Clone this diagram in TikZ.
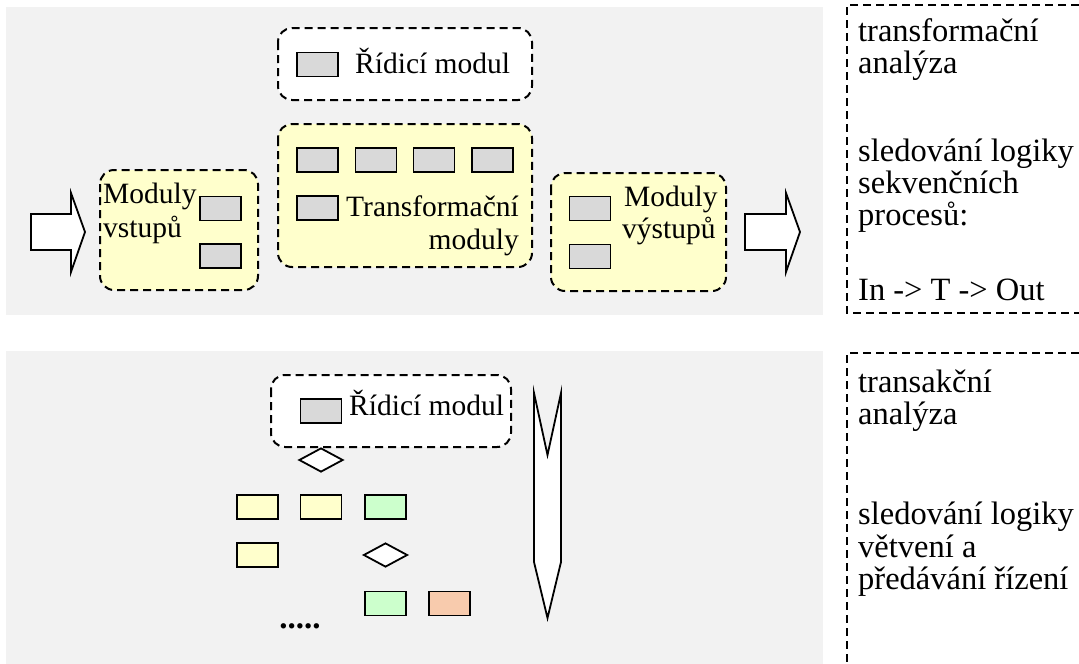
\documentclass[tikz,border=0pt]{standalone}
\usepackage{fontspec}
\setmainfont{Liberation Serif}
\usetikzlibrary{shapes.geometric}
\definecolor{bgray}{HTML}{F2F2F2}
\definecolor{mgray}{HTML}{D9D9D9}
\definecolor{myel}{HTML}{FFFFCC}
\definecolor{mgreen}{HTML}{CCFFCC}
\definecolor{morange}{HTML}{F8CBAD}
\tikzset{
  x=1pt, y=-1pt,
  pnl/.style={fill=bgray, draw=none},
  dbox/.style={draw=black, line width=2pt, dash pattern=on 8pt off 5pt, rounded corners=14pt},
  dline/.style={draw=black, line width=2pt, dash pattern=on 8pt off 5pt},
  modrect/.style={draw=black, line width=1.8pt, minimum width=41pt, minimum height=24pt, inner sep=0pt},
  grect/.style={modrect, fill=mgray},
  yrect/.style={modrect, fill=myel},
  nrect/.style={modrect, fill=mgreen},
  orect/.style={modrect, fill=morange},
  dia/.style={draw=black, line width=1.8pt, fill=white, diamond, aspect=1.8, minimum width=44pt, minimum height=24pt, inner sep=0pt},
  blockarrow/.style={draw=black, line width=1.8pt, fill=white},
  txt/.style={font=\fontsize{29.5}{33}\selectfont, inner sep=0pt},
  rtxt/.style={font=\fontsize{32.5}{36}\selectfont, inner sep=0pt, anchor=base west},
}
\begin{document}
\begin{tikzpicture}
\useasboundingbox (0,0) rectangle (1079,664);
% background panels
\fill[pnl] (6,7) rectangle (823,315);
\fill[pnl] (6,351) rectangle (823,664);

% ===== top panel =====
\draw[dbox, fill=white] (278,28) rectangle (532,100);
\node[grect] (rg1) at (317.5,64.5) {};
\node[txt, anchor=base west] (rt1) at (355,73) {Řídicí modul};

\draw[dbox, fill=myel] (278,124) rectangle (532,267);
\node[grect] (t1) at (317.5,160) {};
\node[grect] (t2) at (376,160) {};
\node[grect] (t3) at (434,160) {};
\node[grect] (t4) at (492.5,160) {};
\node[grect] (t5) at (317.5,208) {};
\node[txt, anchor=base east] (tt1) at (519,216) {Transformační};
\node[txt, anchor=base east] (tt2) at (519,249) {moduly};

\draw[dbox, fill=myel] (100,170) rectangle (258,290);
\node[grect] (v1) at (220.5,208.5) {};
\node[grect] (v2) at (220.5,256) {};
\node[txt, anchor=base west] (vt1) at (103,203) {Moduly};
\node[txt, anchor=base west] (vt2) at (103,237) {vstupů};

\draw[dbox, fill=myel] (551,173) rectangle (726,291);
\node[grect] (o1) at (590,208.5) {};
\node[grect] (o2) at (590,256.5) {};
\node[txt, anchor=base west] (ot1) at (624,206) {Moduly};
\node[txt, anchor=base west] (ot2) at (622,238) {výstupů};

\draw[blockarrow] (31,214) -- (71,214) -- (71,193) -- (85,232) -- (71,272) -- (71,250) -- (31,250) -- cycle;
\draw[blockarrow] (745,214) -- (786,214) -- (786,193) -- (800,232) -- (786,272) -- (786,250) -- (745,250) -- cycle;

% right text panel top
\draw[dline] (1079,5) -- (847,5) -- (847,313) -- (1079,313);
\node[rtxt] (a1) at (858,41) {transformační};
\node[rtxt] (a2) at (858,73) {analýza};
\node[rtxt] (a3) at (858,161) {sledování logiky};
\node[rtxt] (a4) at (858,193) {sekvenčních};
\node[rtxt] (a5) at (858,225) {procesů:};
\node[rtxt] (a6) at (858,300) {In -> T -> Out};

% ===== bottom panel =====
\draw[dbox, fill=white] (271,375) rectangle (511,447);
\node[grect] (rg2) at (321,411) {};
\node[txt, anchor=base west] (rt2) at (349,415) {Řídicí modul};

\node[dia] (d1) at (321,460) {};
\node[yrect] (b1) at (257.5,507) {};
\node[yrect] (b2) at (321,507) {};
\node[nrect] (b3) at (385.5,507) {};
\node[yrect] (b4) at (257.5,555) {};
\node[dia] (d2) at (385.5,555) {};
\node[nrect] (b5) at (385.5,603.5) {};
\node[orect] (b6) at (449.5,603.5) {};
\node[txt, anchor=base, font=\fontsize{33}{36}\selectfont\bfseries] (dots) at (300,628) {.....};

\draw[blockarrow] (534,393) -- (547.5,455) -- (561,393) -- (561,562) -- (547.5,618) -- (534,562) -- cycle;

% right text panel bottom
\draw[dline] (1079,353) -- (847,353) -- (847,664);
\node[rtxt] (c1) at (858,392) {transakční};
\node[rtxt] (c2) at (858,424) {analýza};
\node[rtxt] (c3) at (858,524) {sledování logiky};
\node[rtxt] (c4) at (858,557) {větvení a};
\node[rtxt] (c5) at (858,589) {předávání řízení};
\end{tikzpicture}
\end{document}
